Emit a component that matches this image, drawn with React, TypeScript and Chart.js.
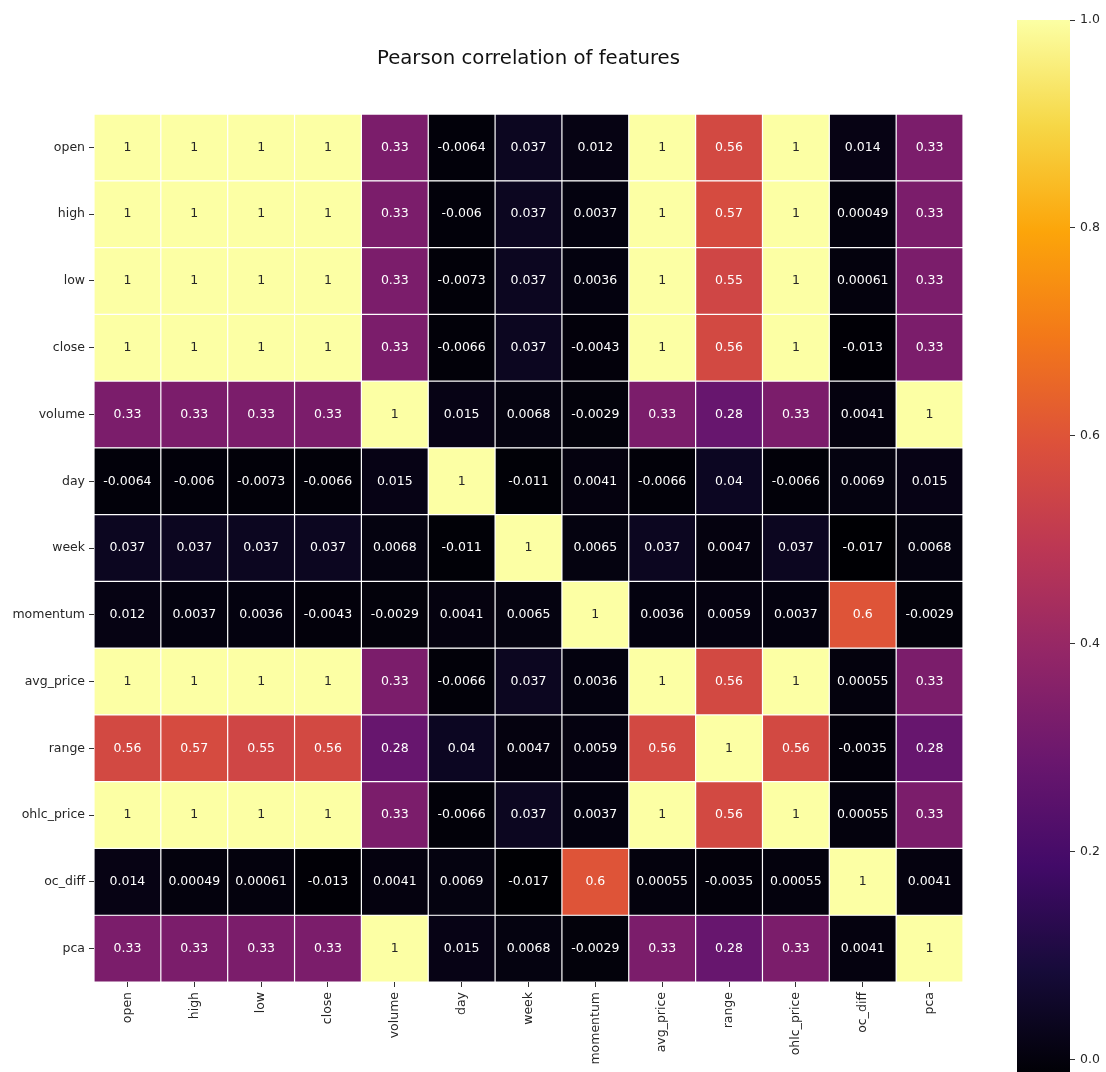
import React, { useEffect, useRef } from "react";
import { Chart, registerables } from "chart.js";

Chart.register(...registerables);

const titleText = "Pearson correlation of features";

const features = [
  "open", "high", "low", "close", "volume", "day", "week",
  "momentum", "avg_price", "range", "ohlc_price", "oc_diff", "pca",
];

const rowOpen = [1, 1, 1, 1, 0.33, -0.0064, 0.037, 0.012, 1, 0.56, 1, 0.014, 0.33];
const rowHigh = [1, 1, 1, 1, 0.33, -0.006, 0.037, 0.0037, 1, 0.57, 1, 0.00049, 0.33];
const rowLow = [1, 1, 1, 1, 0.33, -0.0073, 0.037, 0.0036, 1, 0.55, 1, 0.00061, 0.33];
const rowClose = [1, 1, 1, 1, 0.33, -0.0066, 0.037, -0.0043, 1, 0.56, 1, -0.013, 0.33];
const rowVolume = [0.33, 0.33, 0.33, 0.33, 1, 0.015, 0.0068, -0.0029, 0.33, 0.28, 0.33, 0.0041, 1];
const rowDay = [-0.0064, -0.006, -0.0073, -0.0066, 0.015, 1, -0.011, 0.0041, -0.0066, 0.04, -0.0066, 0.0069, 0.015];
const rowWeek = [0.037, 0.037, 0.037, 0.037, 0.0068, -0.011, 1, 0.0065, 0.037, 0.0047, 0.037, -0.017, 0.0068];
const rowMomentum = [0.012, 0.0037, 0.0036, -0.0043, -0.0029, 0.0041, 0.0065, 1, 0.0036, 0.0059, 0.0037, 0.6, -0.0029];
const rowAvgPrice = [1, 1, 1, 1, 0.33, -0.0066, 0.037, 0.0036, 1, 0.56, 1, 0.00055, 0.33];
const rowRange = [0.56, 0.57, 0.55, 0.56, 0.28, 0.04, 0.0047, 0.0059, 0.56, 1, 0.56, -0.0035, 0.28];
const rowOhlcPrice = [1, 1, 1, 1, 0.33, -0.0066, 0.037, 0.0037, 1, 0.56, 1, 0.00055, 0.33];
const rowOcDiff = [0.014, 0.00049, 0.00061, -0.013, 0.0041, 0.0069, -0.017, 0.6, 0.00055, -0.0035, 0.00055, 1, 0.0041];
const rowPca = [0.33, 0.33, 0.33, 0.33, 1, 0.015, 0.0068, -0.0029, 0.33, 0.28, 0.33, 0.0041, 1];

const correlation = [
  rowOpen, rowHigh, rowLow, rowClose, rowVolume, rowDay, rowWeek,
  rowMomentum, rowAvgPrice, rowRange, rowOhlcPrice, rowOcDiff, rowPca,
];

const colorbarTicks = [0, 0.2, 0.4, 0.6, 0.8, 1.0];

const INFERNO = [
  "#000004", "#160b39", "#420a68", "#6a176e", "#932667", "#bc3754",
  "#dd513a", "#f37819", "#fca50a", "#f6d746", "#fcffa4",
];

const allValues = correlation.flat();
const vmin = Math.min(...allValues);
const vmax = Math.max(...allValues);

const FONT = "'DejaVu Sans', 'Liberation Sans', sans-serif";
const TEXT_DARK = "#262626";

function hexToRgb(h: string): number[] {
  const n = parseInt(h.slice(1), 16);
  return [(n >> 16) & 255, (n >> 8) & 255, n & 255];
}

function infernoRgb(t: number): number[] {
  const tt = Math.max(0, Math.min(1, t)) * (INFERNO.length - 1);
  const i = Math.min(INFERNO.length - 2, Math.floor(tt));
  const f = tt - i;
  const a = hexToRgb(INFERNO[i]);
  const b = hexToRgb(INFERNO[i + 1]);
  return a.map((c, k) => Math.round(c + (b[k] - c) * f));
}

function cellRgb(v: number): number[] {
  return infernoRgb((v - vmin) / (vmax - vmin));
}

function cellColor(v: number): string {
  const [r, g, b] = cellRgb(v);
  return `rgb(${r},${g},${b})`;
}

function textColor(v: number): string {
  const lin = cellRgb(v).map((c) => {
    const s = c / 255;
    return s <= 0.03928 ? s / 12.92 : Math.pow((s + 0.055) / 1.055, 2.4);
  });
  const lum = 0.2126 * lin[0] + 0.7152 * lin[1] + 0.0722 * lin[2];
  return lum > 0.408 ? TEXT_DARK : "#ffffff";
}

const cellLabels = {
  id: "cellLabels",
  afterDatasetsDraw(chart: any) {
    const ctx = chart.ctx;
    ctx.save();
    ctx.font = `12.5px ${FONT}`;
    ctx.textAlign = "center";
    ctx.textBaseline = "middle";
    chart.data.datasets.forEach((_ds: any, r: number) => {
      const meta = chart.getDatasetMeta(r);
      meta.data.forEach((el: any, c: number) => {
        const v = correlation[r][c];
        ctx.fillStyle = textColor(v);
        ctx.fillText(String(v), el.x, (el.y + el.base) / 2);
      });
    });
    ctx.restore();
  },
};

export default function App() {
  const mainRef = useRef<HTMLCanvasElement | null>(null);
  const barRef = useRef<HTMLCanvasElement | null>(null);

  useEffect(() => {
    if (!mainRef.current || !barRef.current) return;

    const tickFont = { family: FONT, size: 12.5 };

    const main = new Chart(mainRef.current, {
      type: "bar",
      data: {
        labels: features,
        datasets: correlation.map((row, r) => ({
          label: features[r],
          data: row.map(() => [r, r + 1]),
          backgroundColor: row.map((v) => cellColor(v)),
          borderColor: "#ffffff",
          borderWidth: 0.6,
          borderSkipped: false,
          inflateAmount: 0,
          categoryPercentage: 1,
          barPercentage: 1,
          grouped: false,
        })) as any,
      },
      options: {
        animation: false,
        responsive: false,
        maintainAspectRatio: false,
        layout: { padding: { left: 0, right: 143, top: 0, bottom: 0 } },
        plugins: {
          legend: { display: false },
          tooltip: { enabled: false },
          title: {
            display: true,
            text: titleText,
            fullSize: false,
            color: "#111111",
            font: { family: FONT, size: 19.7, weight: "normal" as any, lineHeight: 1.2 },
            padding: { top: 47.2, bottom: 43.2 },
          },
        },
        scales: {
          x: {
            type: "category",
            offset: true,
            grid: {
              display: true,
              drawOnChartArea: false,
              drawTicks: true,
              tickLength: 5,
              offset: false,
              color: "#333333",
            },
            border: { display: false },
            ticks: {
              minRotation: 90,
              maxRotation: 90,
              autoSkip: false,
              padding: 5,
              color: TEXT_DARK,
              font: tickFont,
            },
            afterFit: (s: any) => {
              s.height = 90;
            },
          },
          y: {
            type: "linear",
            min: 0,
            max: features.length,
            reverse: true,
            afterBuildTicks: (s: any) => {
              s.ticks = features.map((_f, i) => ({ value: i + 0.5 }));
            },
            grid: {
              display: true,
              drawOnChartArea: false,
              drawTicks: true,
              tickLength: 5,
              color: "#333333",
            },
            border: { display: false },
            ticks: {
              autoSkip: false,
              padding: 4,
              color: TEXT_DARK,
              font: tickFont,
              callback: (v: any) => features[Math.floor(Number(v))],
            },
            afterFit: (s: any) => {
              s.width = 94;
            },
          },
        },
      } as any,
      plugins: [cellLabels],
    });

    const bar = new Chart(barRef.current, {
      type: "bar",
      data: {
        labels: [""],
        datasets: [
          {
            data: [[vmin, vmax]] as any,
            backgroundColor: (c: any) => {
              const chart = c.chart;
              const ys = chart.scales && chart.scales.y;
              if (!ys || !chart.chartArea) return INFERNO[0];
              const y0 = ys.getPixelForValue(vmin);
              const y1 = ys.getPixelForValue(vmax);
              if (!Number.isFinite(y0) || !Number.isFinite(y1) || y0 === y1) return INFERNO[0];
              const g = chart.ctx.createLinearGradient(0, y0, 0, y1);
              INFERNO.forEach((col, i) => g.addColorStop(i / (INFERNO.length - 1), col));
              return g;
            },
            borderWidth: 0,
            inflateAmount: 0,
            categoryPercentage: 1,
            barPercentage: 1,
          },
        ],
      },
      options: {
        animation: false,
        responsive: false,
        maintainAspectRatio: false,
        layout: { padding: { left: 17, right: 0, top: 20, bottom: 12.3 } },
        plugins: {
          legend: { display: false },
          tooltip: { enabled: false },
          title: { display: false },
        },
        scales: {
          x: { display: false, offset: true },
          y: {
            position: "right",
            min: vmin,
            max: vmax,
            afterBuildTicks: (s: any) => {
              s.ticks = colorbarTicks.map((v) => ({ value: v }));
            },
            grid: {
              display: true,
              drawOnChartArea: false,
              drawTicks: true,
              tickLength: 5,
              color: "#333333",
            },
            border: { display: false },
            ticks: {
              padding: 5,
              color: TEXT_DARK,
              font: tickFont,
              callback: (v: any) => Number(v).toFixed(1),
            },
            afterFit: (s: any) => {
              s.width = 36;
            },
          },
        },
      } as any,
    });
    bar.update();

    return () => {
      main.destroy();
      bar.destroy();
    };
  }, []);

  return (
    <div
      style={{
        position: "fixed",
        left: 0,
        top: 0,
        width: 1106,
        height: 1072,
        overflow: "hidden",
        background: "#ffffff",
      }}
    >
      <canvas
        ref={mainRef}
        width={1106}
        height={1072}
        style={{ position: "absolute", left: 0, top: 0, width: 1106, height: 1072 }}
      />
      <canvas
        ref={barRef}
        width={106}
        height={1090}
        style={{ position: "absolute", left: 1000, top: 0, width: 106, height: 1090 }}
      />
    </div>
  );
}
